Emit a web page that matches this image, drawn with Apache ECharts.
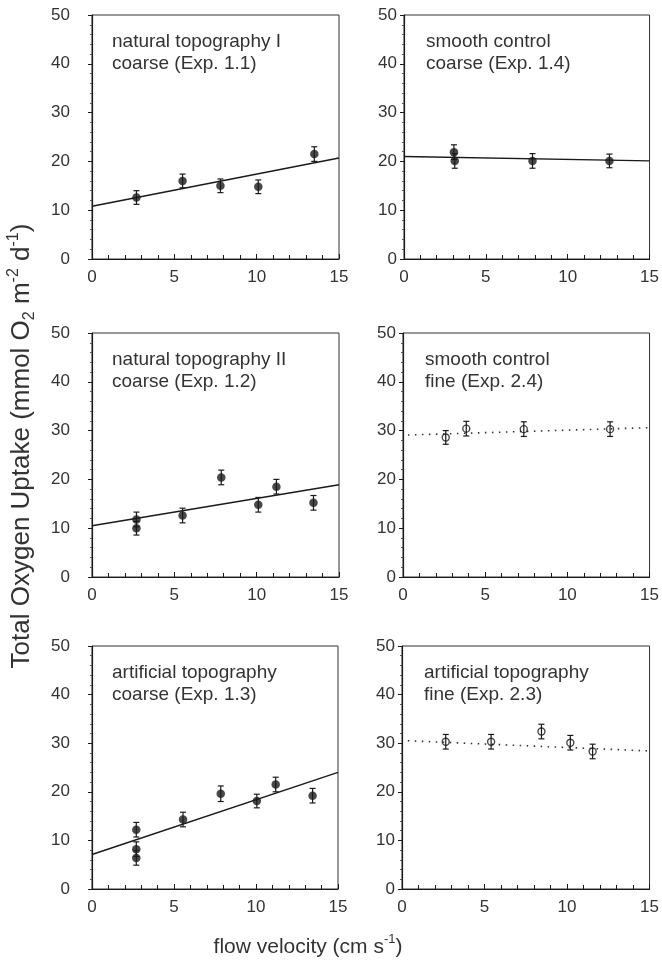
<!DOCTYPE html>
<html>
<head>
<meta charset="utf-8">
<script src="https://cdn.jsdelivr.net/npm/echarts@6/dist/echarts.min.js"></script>
<style>
html, body { margin: 0; padding: 0; background: #fff; }
#main { width: 662px; height: 968px; }
</style>
</head>
<body>
<div id="main"></div>
<script>
// values: flow velocity (cm s-1), uptake, +/- error, fitted line ends
const exp11X = [2.7, 5.5, 7.8, 10.1, 13.5];
const exp11Y = [12.6, 16.0, 15.0, 14.8, 21.5];
const exp11Err = [1.4, 1.4, 1.4, 1.4, 1.5];
const exp11Fit = [[0, 10.8], [15, 20.7]];

const exp14X = [3.05, 3.1, 7.85, 12.55];
const exp14Y = [21.9, 20.1, 20.1, 20.1];
const exp14Err = [1.5, 1.5, 1.5, 1.4];
const exp14Fit = [[0, 21.0], [15, 20.1]];

const exp12X = [2.7, 2.7, 5.5, 7.85, 10.1, 11.2, 13.45];
const exp12Y = [11.8, 10.0, 12.6, 20.4, 14.8, 18.5, 15.2];
const exp12Err = [1.5, 1.4, 1.5, 1.5, 1.5, 1.5, 1.5];
const exp12Fit = [[0, 10.5], [15, 18.9]];

const exp24X = [2.6, 3.85, 7.35, 12.6];
const exp24Y = [28.6, 30.4, 30.3, 30.3];
const exp24Err = [1.4, 1.5, 1.5, 1.5];
const exp24Fit = [[0.3, 29.1], [15, 30.6]];

const exp13X = [2.7, 2.7, 2.7, 5.55, 7.85, 10.05, 11.2, 13.45];
const exp13Y = [12.2, 8.2, 6.4, 14.3, 19.6, 18.1, 21.5, 19.2];
const exp13Err = [1.5, 1.5, 1.5, 1.5, 1.6, 1.4, 1.5, 1.5];
const exp13Fit = [[0, 7.1], [15, 24.0]];

const exp23X = [2.65, 5.4, 8.45, 10.2, 11.55];
const exp23Y = [30.3, 30.3, 32.4, 30.1, 28.3];
const exp23Err = [1.5, 1.5, 1.5, 1.5, 1.5];
const exp23Fit = [[0.35, 30.5], [15, 28.4]];

const panelLabels = [
    'natural topography I\ncoarse (Exp. 1.1)',
    'smooth control\ncoarse (Exp. 1.4)',
    'natural topography II\ncoarse (Exp. 1.2)',
    'smooth control\nfine (Exp. 2.4)',
    'artificial topography\ncoarse (Exp. 1.3)',
    'artificial topography\nfine (Exp. 2.3)'
];
const xTicks = [0, 5, 10, 15];
const yTicks = [0, 10, 20, 30, 40, 50];

const FONT = '"Liberation Sans", Arial, Helvetica, sans-serif';
const INK = '#1a1a1a';

// panel layout: data + where it sits + marker style
const panels = [
    { x: exp11X, y: exp11Y, err: exp11Err, fit: exp11Fit, open: false, left: 92, top: 15, w: 247, h: 244, lm: 22 },
    { x: exp14X, y: exp14Y, err: exp14Err, fit: exp14Fit, open: false, left: 404, top: 15, w: 247, h: 244, lm: 7 },
    { x: exp12X, y: exp12Y, err: exp12Err, fit: exp12Fit, open: false, left: 92, top: 333, w: 247, h: 244, lm: 22 },
    { x: exp24X, y: exp24Y, err: exp24Err, fit: exp24Fit, open: true, left: 403, top: 333, w: 248, h: 244, lm: 7 },
    { x: exp13X, y: exp13Y, err: exp13Err, fit: exp13Fit, open: false, left: 92, top: 646, w: 246, h: 243, lm: 22 },
    { x: exp23X, y: exp23Y, err: exp23Err, fit: exp23Fit, open: true, left: 402, top: 646, w: 248, h: 243, lm: 7 }
];

// vertical error bar with small caps
function renderErr(params, api) {
    const x = api.value(0), y = api.value(1), e = api.value(2);
    const hi = api.coord([x, y + e]);
    const lo = api.coord([x, y - e]);
    const cap = 3;
    const style = { stroke: INK, lineWidth: 1.2 };
    return {
        type: 'group',
        children: [
            { type: 'line', shape: { x1: hi[0], y1: hi[1], x2: lo[0], y2: lo[1] }, style: style },
            { type: 'line', shape: { x1: hi[0] - cap, y1: hi[1], x2: hi[0] + cap, y2: hi[1] }, style: style },
            { type: 'line', shape: { x1: lo[0] - cap, y1: lo[1], x2: lo[0] + cap, y2: lo[1] }, style: style }
        ]
    };
}

const grid = [], xAxis = [], yAxis = [], series = [], title = [];

panels.forEach((p, i) => {
    grid.push({ left: p.left, top: p.top, width: p.w, height: p.h, show: true, borderColor: '#333', borderWidth: 1 });

    xAxis.push({
        gridIndex: i, type: 'value', min: 0, max: 15, interval: 5,
        axisLine: { lineStyle: { color: INK, width: 1.2 } },
        axisTick: { inside: true, length: 5, lineStyle: { color: INK } },
        minorTick: { show: true, splitNumber: 5, length: 4, lineStyle: { color: INK } },
        splitLine: { show: false },
        axisLabel: { margin: 10, fontSize: 17, color: '#333', fontFamily: FONT,
            formatter: v => xTicks.includes(v) ? String(v) : '' }
    });

    yAxis.push({
        gridIndex: i, type: 'value', min: 0, max: 50, interval: 10,
        axisLine: { show: true, lineStyle: { color: INK, width: 1.2 } },
        axisTick: { show: true, length: 4, lineStyle: { color: INK } },
        minorTick: { show: true, splitNumber: 5, length: 2, lineStyle: { color: '#555' } },
        splitLine: { show: false },
        axisLabel: { margin: p.lm, fontSize: 17, color: '#333', fontFamily: FONT,
            formatter: v => yTicks.includes(v) ? String(v) : '' }
    });

    title.push({
        text: panelLabels[i],
        left: p.left + (i % 2 ? 22 : 20), top: p.top + 16, padding: 0,
        textStyle: { fontSize: 19, fontWeight: 'normal', lineHeight: 22, color: '#333', fontFamily: FONT }
    });

    // fitted line
    series.push({
        type: 'line', xAxisIndex: i, yAxisIndex: i, data: p.fit,
        showSymbol: false, silent: true, z: 2,
        lineStyle: p.open
            ? { color: '#333', width: 1.6, type: [1.5, 5.5] }
            : { color: INK, width: 1.4 }
    });

    const pts = p.x.map((v, k) => [v, p.y[k], p.err[k]]);

    series.push({
        type: 'custom', xAxisIndex: i, yAxisIndex: i, data: pts,
        renderItem: renderErr, z: 3, silent: true,
        encode: { x: 0, y: 1 }
    });

    series.push({
        type: 'scatter', xAxisIndex: i, yAxisIndex: i, data: pts,
        symbol: 'circle', symbolSize: p.open ? 7 : 8.5, z: 4,
        itemStyle: p.open
            ? { color: 'rgba(255,255,255,0)', borderColor: INK, borderWidth: 1.4 }
            : { color: INK }
    });
});

const chart = echarts.init(document.getElementById('main'));
chart.setOption({
    animation: false,
    backgroundColor: '#fff',
    title: title,
    grid: grid,
    xAxis: xAxis,
    yAxis: yAxis,
    series: series,
    graphic: [
        {
            type: 'text', x: 22, y: 446, rotation: Math.PI / 2,
            style: {
                text: '{a|Total Oxygen Uptake (mmol O}{sub|2}{a| m}{sup|-2}{a| d}{sup|-1}{a|)}',
                align: 'center', verticalAlign: 'middle', fill: '#333',
                rich: {
                    a: { fontSize: 26, lineHeight: 32, fontFamily: FONT, fill: '#333' },
                    sub: { fontSize: 16, lineHeight: 19, verticalAlign: 'bottom', fontFamily: FONT, fill: '#333' },
                    sup: { fontSize: 16, lineHeight: 19, verticalAlign: 'top', fontFamily: FONT, fill: '#333' }
                }
            }
        },
        {
            type: 'text', x: 308, y: 947,
            style: {
                text: '{a|flow velocity (cm s}{sup|-1}{a|)}',
                align: 'center', verticalAlign: 'middle', fill: '#333',
                rich: {
                    a: { fontSize: 21, lineHeight: 28, fontFamily: FONT, fill: '#333' },
                    sup: { fontSize: 13, lineHeight: 16, verticalAlign: 'top', fontFamily: FONT, fill: '#333' }
                }
            }
        }
    ]
});
</script>
</body>
</html>
